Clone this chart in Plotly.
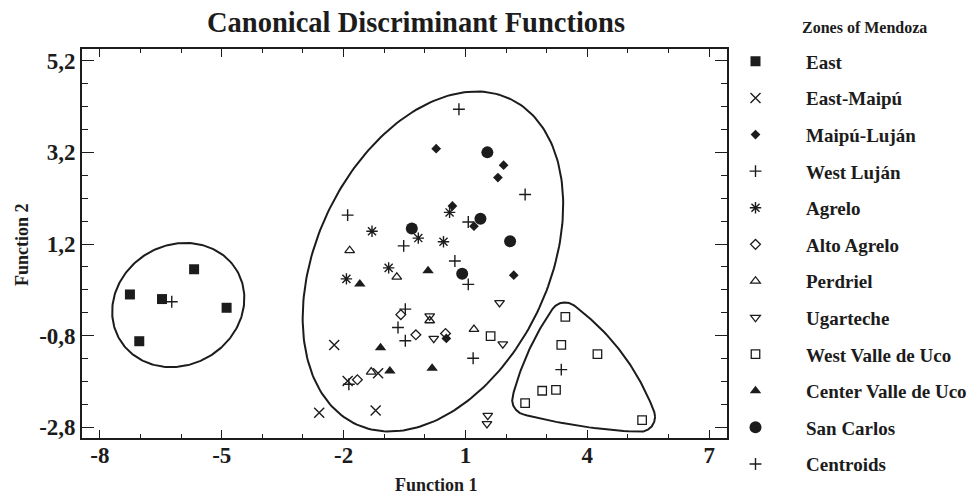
import numpy as np
import plotly.graph_objects as go

# ---------------- data ----------------
east_x = [-7.26, -6.47, -5.68, -4.88, -7.03]
east_y = [0.10, 0.00, 0.65, -0.19, -0.92]

east_maipu_x = [-2.23, -2.60, -1.90, -1.15, -1.21]
east_maipu_y = [-1.00, -2.48, -1.79, -1.62, -2.43]

maipu_lujan_x = [0.28, 1.94, 1.80, 0.68, 1.21, 2.19, 0.53]
maipu_lujan_y = [3.28, 2.92, 2.65, 2.03, 1.59, 0.52, -0.86]

west_lujan_x = [0.84, 2.47, -1.90, 1.19, -1.87]
west_lujan_y = [4.14, 2.28, 1.83, -1.29, -1.86]

agrelo_x = [0.61, -1.30, -0.16, 0.46, -0.89, -1.93]
agrelo_y = [1.89, 1.48, 1.33, 1.25, 0.68, 0.44]

alto_agrelo_x = [-0.59, -0.22, 0.51, -1.66]
alto_agrelo_y = [-0.34, -0.78, -0.75, -1.76]

perdriel_x = [-1.85, -0.69, 1.21, -1.32, 0.12]
perdriel_y = [1.06, 0.48, -0.66, -1.59, -0.47]

ugarteche_x = [1.84, 0.22, 1.92, 1.55, 1.53, 0.12]
ugarteche_y = [-0.08, -0.86, -0.98, -2.54, -2.72, -0.37]

west_uco_x = [1.62, 3.46, 3.36, 4.25, 2.89, 3.23, 2.47, 5.35]
west_uco_y = [-0.81, -0.39, -1.00, -1.20, -2.00, -1.98, -2.27, -2.64]

center_uco_x = [0.08, -1.60, -1.09, -0.86, 0.18]
center_uco_y = [0.62, 0.33, -1.06, -1.57, -1.51]

san_carlos_x = [1.54, 1.37, -0.32, 2.10, 0.92]
san_carlos_y = [3.20, 1.75, 1.54, 1.26, 0.55]

centroid_x = [-6.23, 3.36, 1.07, -0.52, 0.74, 1.07, -0.48, -0.66, -0.48]
centroid_y = [-0.06, -1.54, 1.68, 1.16, 0.83, 0.32, -0.22, -0.62, -0.91]

x_tickvals = [-8, -5, -2, 1, 4, 7]
x_ticktext = ["-8", "-5", "-2", "1", "4", "7"]
y_tickvals = [-2.8, -0.8, 1.2, 3.2, 5.2]
y_ticktext = ["-2,8", "-0,8", "1,2", "3,2", "5,2"]

# ---------------- layout geometry ----------------
ML, MR, MT, MB = 82, 245, 49, 58
W, H = 972, 496
PW, PH = W - ML - MR, H - MT - MB
XR = [-8.44, 7.44]
YR = [-3.031, 5.455]
XS = PW / (XR[1] - XR[0])  # px per unit
YS = PH / (YR[1] - YR[0])

INK = "#1c1c1c"
FONT = "Liberation Serif"


def ellipse(cx, cy, a_px, b_px, ang_deg, n=240):
    t = np.linspace(0, 2 * np.pi, n)
    th = np.radians(ang_deg)
    px = a_px * np.cos(t) * np.cos(th) - b_px * np.sin(t) * np.sin(th)
    py = a_px * np.cos(t) * np.sin(th) + b_px * np.sin(t) * np.cos(th)
    return cx + px / XS, cy + py / YS


def rounded_triangle(verts, bulges, r_px, n=720):
    P = np.array([[x * XS, y * YS] for x, y in verts])
    c = P.mean(axis=0)
    pts = []
    for i in range(3):
        p0, p1 = P[i], P[(i + 1) % 3]
        m = (p0 + p1) / 2
        d = p1 - p0
        nrm = np.array([d[1], -d[0]]) / np.hypot(*d)
        if np.dot(nrm, m - c) < 0:
            nrm = -nrm
        ctrl = m + nrm * bulges[i]
        s = np.linspace(0, 1, 120)[:, None]
        pts.append((1 - s) ** 2 * p0 + 2 * (1 - s) * s * ctrl + s ** 2 * p1)
    pts = np.vstack(pts)
    ang = np.linspace(0, 2 * np.pi, n)
    u = np.stack([np.cos(ang), np.sin(ang)], axis=1)
    idx = (pts @ u.T).argmax(axis=0)
    out = pts[idx] + r_px * u
    return out[:, 0] / XS, out[:, 1] / YS


fig = go.Figure()

# group outlines
for ex, ey in [ellipse(-6.07, -0.13, 68, 60, 30),
               ellipse(0.20, 0.82, 180, 116, 64.5),
               rounded_triangle([(3.45, -0.40), (2.52, -2.20), (5.30, -2.57)],
                                [8, 6, 18], 15)]:
    fig.add_trace(go.Scatter(x=ex, y=ey, mode="lines",
                             line=dict(color=INK, width=2),
                             showlegend=False, hoverinfo="skip"))

series = [
    ("East", east_x, east_y, "square", 10, 0),
    ("East-Maipú", east_maipu_x, east_maipu_y, "x-thin-open", 10, 1.4),
    ("Maipú-Luján", maipu_lujan_x, maipu_lujan_y, "diamond", 7.5, 0),
    ("West Luján", west_lujan_x, west_lujan_y, "cross-thin-open", 8.5, 1.4),
    ("Agrelo", agrelo_x, agrelo_y, "asterisk-open", 9.5, 1.4),
    ("Alto Agrelo", alto_agrelo_x, alto_agrelo_y, "diamond-open", 7.5, 1.3),
    ("Perdriel", perdriel_x, perdriel_y, "triangle-up-open", 8.5, 1.3),
    ("Ugarteche", ugarteche_x, ugarteche_y, "triangle-down-open", 8.5, 1.3),
    ("West Valle de Uco", west_uco_x, west_uco_y, "square-open", 8.5, 1.3),
    ("Center Valle de Uco", center_uco_x, center_uco_y, "triangle-up", 10, 0),
    ("San Carlos", san_carlos_x, san_carlos_y, "circle", 12, 0),
    ("Centroids", centroid_x, centroid_y, "cross-thin-open", 8.5, 1.4),
]

for name, xs, ys, sym, size, lw in series:
    fig.add_trace(go.Scatter(
        x=xs, y=ys, mode="markers", name=name, legendgroup=name,
        marker=dict(symbol=sym, size=size, color=INK,
                    line=dict(color=INK, width=lw)),
    ))

axis_common = dict(showline=True, linewidth=1.6, linecolor=INK, mirror="ticks",
                   ticks="inside", tickcolor=INK, tickwidth=1.3,
                   showgrid=False, zeroline=False,
                   tickfont=dict(family=FONT, size=23, color=INK, weight="bold"))

fig.update_xaxes(range=XR, tickmode="array", tickvals=x_tickvals, ticktext=x_ticktext,
                 ticklen=8, ticklabelstandoff=-4,
                 minor=dict(tickmode="linear", tick0=-8, dtick=1, ticks="inside",
                            ticklen=4, tickcolor=INK, tickwidth=1.3),
                 **axis_common)
fig.update_yaxes(range=YR, tickmode="array", tickvals=y_tickvals, ticktext=y_ticktext,
                 ticklen=12,
                 minor=dict(tickmode="linear", tick0=-2.8, dtick=0.5, ticks="inside",
                            ticklen=6, tickcolor=INK, tickwidth=1.3),
                 **axis_common)


def px_x(p):
    return (p - ML) / PW


def px_y(p):
    return (H - MB - p) / PH


annotations = [
    dict(text="Canonical Discriminant Functions", x=px_x(416), y=px_y(22),
         font=dict(family=FONT, size=28.5, color=INK, weight="bold")),
    dict(text="Function 1", x=px_x(436), y=px_y(485),
         font=dict(family=FONT, size=18, color=INK, weight="bold")),
    dict(text="Function 2", x=px_x(22), y=px_y(245), textangle=-90,
         font=dict(family=FONT, size=18, color=INK, weight="bold")),
    dict(text="Zones of Mendoza", x=px_x(864), y=px_y(27),
         font=dict(family=FONT, size=16, color=INK, weight="bold")),
]
for a in annotations:
    a.update(xref="paper", yref="paper", showarrow=False,
             xanchor="center", yanchor="middle")

fig.update_layout(
    width=W, height=H,
    margin=dict(l=ML, r=MR, t=MT, b=MB, pad=0, autoexpand=False),
    paper_bgcolor="white", plot_bgcolor="white",
    annotations=annotations,
    legend=dict(x=px_x(705), y=px_y(42.5), xanchor="left", yanchor="top",
                font=dict(family=FONT, size=19, color=INK, weight="bold"),
                itemwidth=91, tracegroupgap=8.9, bgcolor="rgba(0,0,0,0)",
                maxheight=480),
    showlegend=True,
)

fig.write_html("out.html")
